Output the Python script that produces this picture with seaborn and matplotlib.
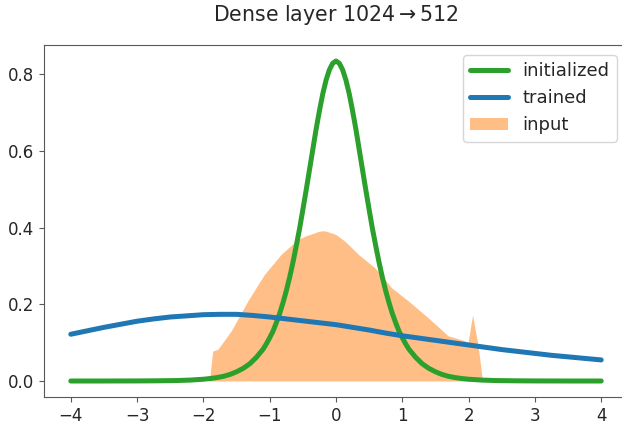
import numpy as np
import matplotlib
matplotlib.use("Agg")
import matplotlib.pyplot as plt
import seaborn as sns

sns.set_style("ticks", {"axes.edgecolor": ".35", "xtick.color": ".35", "ytick.color": ".35"})
plt.rcParams['font.family'] = ['DejaVu Sans']

# initialized weights density
init_x = [-4.0, -3.5, -3.0, -2.7, -2.4, -2.2, -2.0, -1.9, -1.8, -1.7, -1.6, -1.5, -1.4, -1.3,
          -1.2, -1.1, -1.05, -1.0, -0.95, -0.9, -0.85, -0.8, -0.75, -0.7, -0.65, -0.6, -0.55,
          -0.5, -0.45, -0.4, -0.35, -0.3, -0.25, -0.2, -0.15, -0.1, -0.05, 0.0,
          0.05, 0.1, 0.15, 0.2, 0.25, 0.3, 0.35, 0.4, 0.45, 0.5, 0.55, 0.6, 0.65, 0.7, 0.75,
          0.8, 0.85, 0.9, 0.95, 1.0, 1.05, 1.1, 1.2, 1.3, 1.4, 1.5, 1.6, 1.7, 1.8, 1.9, 2.0,
          2.2, 2.4, 2.7, 3.0, 3.5, 4.0]
init_y = [0.0, 0.0, 0.0002, 0.0005, 0.0012, 0.0024, 0.0046, 0.0064, 0.0088, 0.012, 0.017, 0.024,
          0.033, 0.045, 0.062, 0.083, 0.097, 0.113, 0.130, 0.152, 0.176, 0.204, 0.235, 0.27,
          0.309, 0.352, 0.397, 0.447, 0.498, 0.551, 0.604, 0.657, 0.705, 0.749, 0.785, 0.812,
          0.829, 0.835,
          0.829, 0.812, 0.785, 0.749, 0.705, 0.657, 0.604, 0.551, 0.498, 0.447, 0.397, 0.352,
          0.309, 0.27, 0.235, 0.204, 0.176, 0.152, 0.130, 0.113, 0.097, 0.083, 0.062, 0.045,
          0.033, 0.024, 0.017, 0.012, 0.0088, 0.0064, 0.0046, 0.0024, 0.0012, 0.0005, 0.0002,
          0.0, 0.0]

# trained weights density
trained_x = [-4.0, -3.75, -3.5, -3.25, -3.0, -2.75, -2.5, -2.25, -2.0, -1.75, -1.5, -1.25,
             -1.0, -0.75, -0.5, -0.25, 0.0, 0.25, 0.5, 0.75, 1.0, 1.25, 1.5, 1.75, 2.0, 2.25,
             2.5, 2.75, 3.0, 3.25, 3.5, 3.75, 4.0]
trained_y = [0.122, 0.131, 0.140, 0.148, 0.156, 0.162, 0.167, 0.170, 0.173, 0.174, 0.174, 0.171,
             0.167, 0.162, 0.157, 0.152, 0.147, 0.140, 0.133, 0.125, 0.118, 0.112, 0.106, 0.100,
             0.094, 0.088, 0.082, 0.077, 0.072, 0.067, 0.063, 0.059, 0.055]

# input activations histogram outline
input_x = [-1.91, -1.86, -1.78, -1.58, -1.33, -1.08, -0.83, -0.58, -0.45, -0.33, -0.27, -0.21,
           -0.15, -0.06, 0.0, 0.14, 0.34, 0.59, 0.84, 1.09, 1.39, 1.69, 1.94, 1.99, 2.06, 2.14, 2.21]
input_y = [0.0, 0.078, 0.083, 0.131, 0.209, 0.278, 0.330, 0.369, 0.379, 0.386, 0.390, 0.392,
           0.391, 0.386, 0.382, 0.364, 0.330, 0.295, 0.243, 0.209, 0.165, 0.118, 0.105, 0.100,
           0.172, 0.096, 0.0]

fig = plt.figure(figsize=(6.22, 4.29), dpi=100)
ax = fig.add_axes([0.0712, 0.0746, 0.938, 0.8205])

sns.lineplot(x=init_x, y=init_y, color="#2ca02c", linewidth=3.6, label="initialized", ax=ax)
sns.lineplot(x=trained_x, y=trained_y, color="#1f77b4", linewidth=3.6, label="trained", ax=ax)
ax.fill_between(input_x, input_y, color="#ff7f0e", alpha=0.5, linewidth=0, label="input")

ax.spines["right"].set_visible(False)
ax.set_xticks(np.arange(-4, 5, 1))
ax.set_yticks([0.0, 0.2, 0.4, 0.6, 0.8])
ax.tick_params(labelsize=12, labelcolor="#262626")
ax.set_title("Dense layer $1024 \\to 512$", fontsize=14.8, pad=17)
ax.legend(loc="upper right", fontsize=13, handlelength=2.1, bbox_to_anchor=(0.997, 0.997))

fig.savefig("out.png", dpi=100)
